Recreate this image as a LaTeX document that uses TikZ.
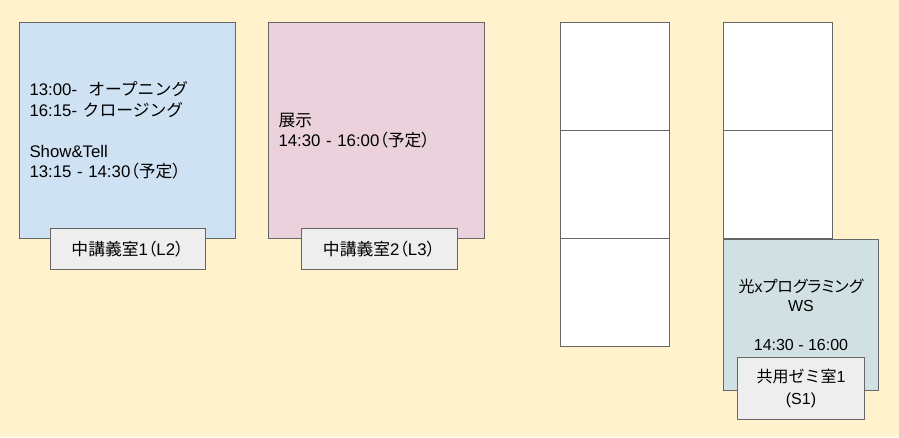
\documentclass[tikz,border=0pt]{standalone}
\usepackage{fontspec}
\setmainfont{Liberation Sans}
\newfontfamily\jp{Noto Sans CJK JP}
\newfontfamily\jpp[RawFeature=+palt]{Noto Sans CJK JP}
\usetikzlibrary{positioning}

\definecolor{bgyellow}{HTML}{FFF2CC}
\definecolor{roomblue}{HTML}{CFE2F3}
\definecolor{roompink}{HTML}{EAD1DC}
\definecolor{roomteal}{HTML}{D0E0E3}
\definecolor{taggray}{HTML}{EEEEEE}
\definecolor{linegray}{HTML}{666666}

\newcommand{\yotei}{{\jpp （}{\jp 予定}{\jpp ）}}

\begin{document}
\begin{tikzpicture}[x=1pt,y=-1pt]
\tikzset{
	room/.style = {rectangle, draw = linegray, line width = 1pt, inner sep = 0,
		font = \fontsize{16.8}{20.6}\selectfont},
	big room/.style = {room, minimum width = 216pt, minimum height = 216pt,
		text width = 196pt, align = left},
	cell/.style = {room, fill = white, minimum width = 109pt, minimum height = 108pt},
	tag/.style = {room, fill = taggray, align = center},
}

\fill[bgyellow] (0,0) rectangle (899,437);
\useasboundingbox (0,0) rectangle (899,437);

% lecture rooms
\node(l2)[big room, fill = roomblue, anchor = north west] at (19,22)
	{13:00- \ {\jp オープニング}\\16:15- {\jp クロージング}\\ \mbox{}\\Show\&Tell\\13:15 - 14:30\yotei};
\node(l3)[big room, fill = roompink, anchor = north west] at (268,22)
	{{\jp 展示}\\14:30 - 16:00\yotei};

\node(l2tag)[tag, minimum width = 155pt, minimum height = 41pt, below = -11pt of l2]
	{{\jp 中講義室}1{\jpp （}L2{\jpp ）}};
\node(l3tag)[tag, minimum width = 156pt, minimum height = 41pt, below = -11pt of l3, xshift = 2.5pt]
	{{\jp 中講義室}2{\jpp （}L3{\jpp ）}};

% empty rooms
\node(a1)[cell, anchor = north west] at (560,22) {};
\node(a2)[cell, below = -1pt of a1] {};
\node(a3)[cell, below = -1pt of a2] {};
\node(b1)[cell, anchor = north west] at (723,22) {};
\node(b2)[cell, below = -1pt of b1] {};

% workshop
\node(ws)[room, fill = roomteal, minimum width = 155pt, minimum height = 151pt,
	align = center, anchor = north west, font = \fontsize{16}{19.5}\selectfont] at (723,239)
	{{\jpp 光}x{\jpp プログラミング}\\WS\\ \mbox{}\\14:30 - 16:00};
\node(s1)[tag, minimum width = 127pt, minimum height = 62pt, below = -34pt of ws,
	font = \fontsize{16}{22}\selectfont]
	{{\jp 共用ゼミ室}1\\(S1)};

\end{tikzpicture}
\end{document}
